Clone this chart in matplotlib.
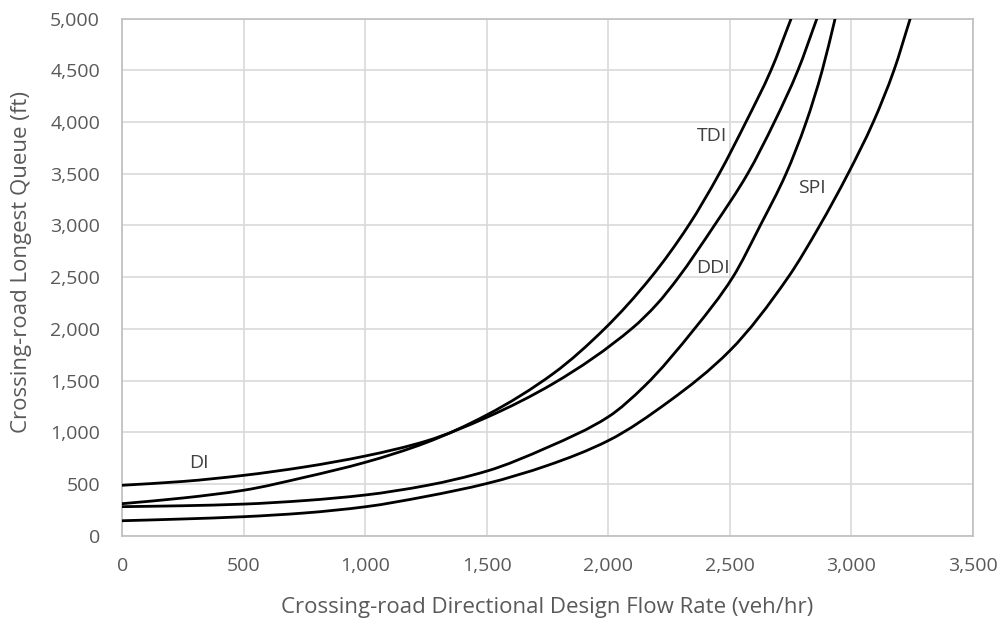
import numpy as np
import matplotlib.pyplot as plt
from matplotlib.path import Path
from matplotlib.patches import PathPatch
from matplotlib.ticker import FuncFormatter

plt.rcParams['font.family'] = ['Open Sans', 'DejaVu Sans']

# values (flow rate veh/hr -> longest queue ft)
di_x = [0, 250, 500, 750, 1000, 1250, 1500, 1775, 2100, 2200, 2286, 2436, 2573, 2683, 2780, 2858]
di_y = [488, 525, 584, 665, 771, 915, 1145, 1474, 2010, 2240, 2490, 3000, 3500, 4000, 4500, 5000]

tdi_x = [0, 250, 500, 750, 1000, 1250, 1500, 1775, 1984, 2176, 2330, 2456, 2566, 2669, 2752]
tdi_y = [310, 365, 440, 565, 710, 900, 1168, 1571, 2000, 2500, 3000, 3500, 4000, 4500, 5000]

ddi_x = [0, 250, 500, 750, 1000, 1250, 1500, 1750, 2000, 2150, 2354, 2512, 2625, 2731, 2814, 2880, 2933]
ddi_y = [281, 290, 306, 340, 394, 485, 625, 855, 1150, 1450, 2000, 2500, 3000, 3500, 4000, 4500, 5000]

spi_x = [0, 250, 500, 750, 1000, 1250, 1500, 1750, 2000, 2250, 2500, 2740, 2870, 2986, 3090, 3175, 3242]
spi_y = [145, 162, 184, 220, 280, 380, 505, 680, 920, 1300, 1790, 2500, 3000, 3500, 4000, 4500, 5000]

labels = ["DI", "TDI", "DDI", "SPI"]
label_x = [316, 2427, 2431, 2838]
label_y = [703, 3870, 2589, 3363]


def smooth_path(xs, ys):
    # smoothed line drawn as cubic bezier segments through the data points (pchip-style slopes)
    x = np.asarray(xs, float)
    y = np.asarray(ys, float)
    h = np.diff(x)
    d = np.diff(y) / h
    m = np.empty_like(x)
    m[0], m[-1] = d[0], d[-1]
    for k in range(1, len(x) - 1):
        if d[k - 1] * d[k] <= 0:
            m[k] = 0.0
        else:
            w1 = 2 * h[k] + h[k - 1]
            w2 = h[k] + 2 * h[k - 1]
            m[k] = (w1 + w2) / (w1 / d[k - 1] + w2 / d[k])
    verts = [(x[0], y[0])]
    codes = [Path.MOVETO]
    for k in range(len(x) - 1):
        verts += [(x[k] + h[k] / 3, y[k] + m[k] * h[k] / 3),
                  (x[k + 1] - h[k] / 3, y[k + 1] - m[k + 1] * h[k] / 3),
                  (x[k + 1], y[k + 1])]
        codes += [Path.CURVE4] * 3
    return Path(verts, codes)


fig = plt.figure(figsize=(10.03, 6.22), dpi=100)
ax = fig.add_axes([0.1219, 0.1387, 0.8481, 0.8313])

for xs, ys in [(di_x, di_y), (tdi_x, tdi_y), (ddi_x, ddi_y), (spi_x, spi_y)]:
    ax.add_patch(PathPatch(smooth_path(xs, ys), facecolor="none", edgecolor="black",
                           lw=2.0, capstyle="round", zorder=3))

for i in range(len(labels)):
    ax.text(label_x[i], label_y[i], labels[i], fontsize=14, color="#404040",
            ha="center", va="center", zorder=4)

ax.set_xlim(0, 3500)
ax.set_ylim(0, 5000)
ax.set_xticks(np.arange(0, 3501, 500))
ax.set_yticks(np.arange(0, 5001, 500))
fmt = FuncFormatter(lambda v, p: "{:,.0f}".format(v))
ax.xaxis.set_major_formatter(fmt)
ax.yaxis.set_major_formatter(fmt)
ax.tick_params(length=0, labelsize=14, labelcolor="#595959")
ax.tick_params(axis="x", pad=15)
ax.tick_params(axis="y", pad=16)
ax.grid(True, color="#d9d9d9", lw=1.2, zorder=0)
ax.set_axisbelow(True)
for s in ax.spines.values():
    s.set_color("#bfbfbf")
    s.set_linewidth(1.2)

ax.set_xlabel("Crossing-road Directional Design Flow Rate (veh/hr)", fontsize=16, color="#595959")
ax.set_ylabel("Crossing-road Longest Queue (ft)", fontsize=16, color="#595959")
ax.xaxis.set_label_coords(0.5, -0.118)
ax.yaxis.set_label_coords(-0.106, 0.53)

fig.savefig("out.png", dpi=100)
